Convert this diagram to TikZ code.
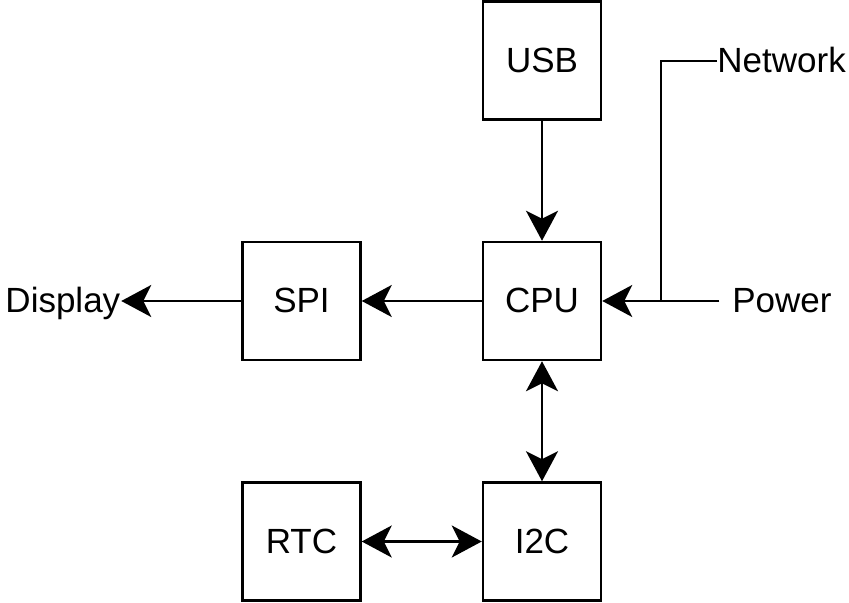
\documentclass[tikz,border=0pt]{standalone}
\usepackage{fontspec}
\setmainfont{Liberation Sans}
\usetikzlibrary{arrows.meta,positioning}

\begin{document}
\begin{tikzpicture}[
    x=0.5pt, y=-0.5pt,
    node distance=60pt,
    font=\fontsize{17.5}{21}\selectfont,
    >={Stealth[length=15pt,width=16pt,inset=4pt]},
    block/.style={rectangle, draw=black, line width=1.25pt, minimum width=59pt, minimum height=59pt, align=center, text height=14pt, text depth=2.2pt},
    lbl/.style={inner sep=0pt, text height=14pt, text depth=2.2pt},
    flow/.style={->, line width=1.25pt},
    bus/.style={<->, line width=1.25pt}
]
\useasboundingbox (0,0) rectangle (849,603);

% Processor and peripherals
\node[block] (cpu) at (542,301) {CPU};
\node[block, above=of cpu] (usb) {USB};
\node[block, left=of cpu] (spi) {SPI};
\node[block, below=of cpu] (i2c) {I2C};
\node[block, left=of i2c] (rtc) {RTC};

% External signals
\node[lbl, outer sep=6.5pt, right=58.5pt of cpu] (power) {Power};
\node[lbl, anchor=west] (network) at (717,61) {Network};
\node[lbl, outer sep=0.5pt, left=60pt of spi] (display) {Display};
\coordinate (tap) at (661,301);

% Arrows
\draw[flow] (usb) -- (cpu);
\draw[flow] (cpu) -- (spi);
\draw[flow] (spi) -- (display);
\draw[flow] (power.west) -- (cpu.east);
\draw[line width=1.25pt] (network.west) -| (tap);
\draw[bus] (cpu) -- (i2c);
\draw[bus] (rtc) -- (i2c);

\end{tikzpicture}
\end{document}
